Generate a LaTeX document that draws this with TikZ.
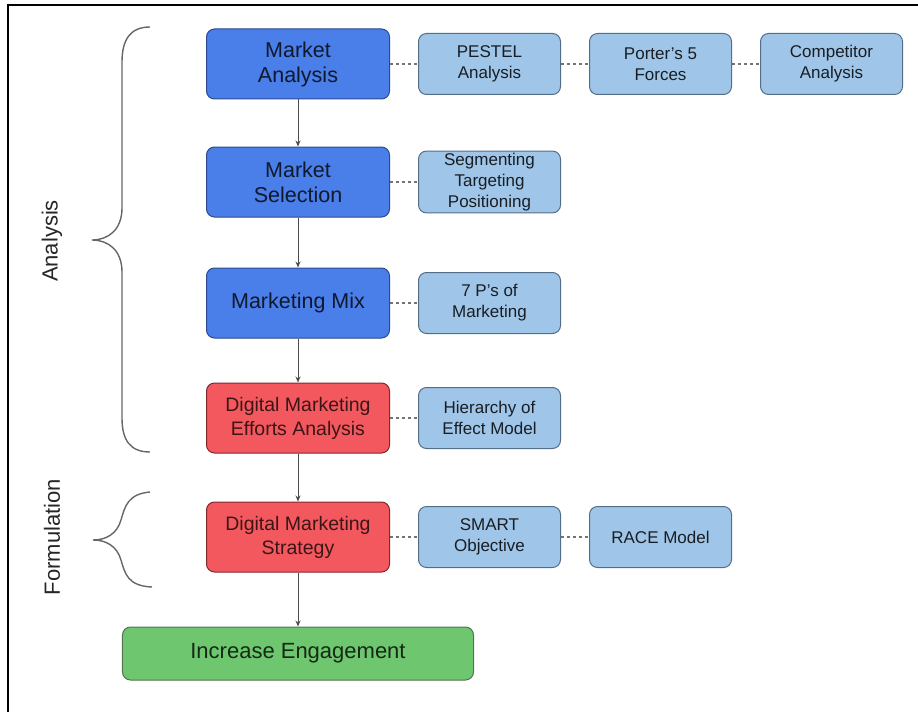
\documentclass[tikz,border=0pt]{standalone}
\usepackage{fontspec}
\setmainfont{Liberation Sans}
\usetikzlibrary{positioning,arrows.meta}
\definecolor{mainblue}{RGB}{74,126,232}
\definecolor{mainblueline}{RGB}{44,74,140}
\definecolor{sideblue}{RGB}{159,197,232}
\definecolor{sideblueline}{RGB}{84,110,138}
\definecolor{mainred}{RGB}{242,88,94}
\definecolor{mainredline}{RGB}{130,40,44}
\definecolor{maingreen}{RGB}{110,198,110}
\definecolor{maingreenline}{RGB}{80,116,80}
\begin{document}
\begin{tikzpicture}[x=1bp, y=-1bp, node distance={28bp},
	box/.style = {rounded corners=8bp, line width=1bp, align=center, inner sep=2bp},
	main/.style = {box, draw=mainblueline, fill=mainblue, text=black!80!mainblue, minimum width=183bp, minimum height=70bp, font=\fontsize{21.5bp}{25bp}\selectfont},
	red/.style = {main, draw=mainredline, fill=mainred, text=black!75!mainred, font=\fontsize{19.5bp}{24bp}\selectfont},
	side/.style = {box, draw=sideblueline, fill=sideblue, text=black!85!sideblue, minimum width=142bp, minimum height=61bp, font=\fontsize{17bp}{21bp}\selectfont},
	goal/.style = {box, draw=maingreenline, fill=maingreen, text=black!80!maingreen, minimum width=351bp, minimum height=53bp, font=\fontsize{22bp}{25bp}\selectfont},
	flow/.style = {draw=black!70, line width=1bp, -{Stealth[length=6bp,width=5bp]}},
	link/.style = {draw=black!55, line width=1.2bp, dash pattern=on 3bp off 3bp},
	brace/.style = {draw=black!60, line width=1.4bp},
	phase/.style = {rotate=90, text=black!85, font=\fontsize{22bp}{25bp}\selectfont}]
	\useasboundingbox (0,0) rectangle (918,712);
	\draw[line width=2bp] (8,712) -- (8,5) -- (918,5);
	% main column
	\node[main] (ma) at (298,64) {Market\\Analysis};
	\node[main] (ms) [below=47bp of ma] {Market\\Selection};
	\node[main] (mm) [below=50bp of ms] {Marketing Mix};
	\node[red] (dea) [below=44bp of mm] {Digital Marketing\\Efforts Analysis};
	\node[red] (dms) [below=48bp of dea] {Digital Marketing\\Strategy};
	\node[goal] (ie) [below=54bp of dms] {Increase Engagement};
	% tools
	\node[side] (pestel) [right=of ma] {PESTEL\\Analysis};
	\node[side] (porter) [right=of pestel] {Porter’s 5\\Forces};
	\node[side] (comp) [right=of porter] {Competitor\\Analysis};
	\node[side] (stp) [right=of ms] {Segmenting\\Targeting\\Positioning};
	\node[side] (sevenp) [right=of mm] {7 P’s of\\Marketing};
	\node[side] (hoe) [right=of dea] {Hierarchy of\\Effect Model};
	\node[side] (smart) [right=of dms] {SMART\\Objective};
	\node[side] (race) [right=of smart] {RACE Model};
	\draw[flow] (ma) -- (ms);
	\draw[flow] (ms) -- (mm);
	\draw[flow] (mm) -- (dea);
	\draw[flow] (dea) -- (dms);
	\draw[flow] (dms) -- (ie);
	\draw[link] (ma) -- (pestel);
	\draw[link] (pestel) -- (porter);
	\draw[link] (porter) -- (comp);
	\draw[link] (ms) -- (stp);
	\draw[link] (mm) -- (sevenp);
	\draw[link] (dea) -- (hoe);
	\draw[link] (dms) -- (smart);
	\draw[link] (smart) -- (race);
	% phases
	\draw[brace] (150,27) .. controls (130,27) and (122,40) .. (122,62) -- (122,208)
		.. controls (122,230) and (108,240) .. (92,240)
		.. controls (108,240) and (122,250) .. (122,272) -- (122,418)
		.. controls (122,440) and (130,452) .. (150,452);
	\draw[brace] (150,492) .. controls (128,494) and (125,506) .. (121,520)
		.. controls (117,534) and (106,540) .. (93,540)
		.. controls (106,540) and (117,546) .. (121,560)
		.. controls (125,574) and (128,586) .. (152,587);
	\node[phase] (analysis) at (52,241) {Analysis};
	\node[phase] (formulation) at (52,537) {Formulation};
\end{tikzpicture}
\end{document}
